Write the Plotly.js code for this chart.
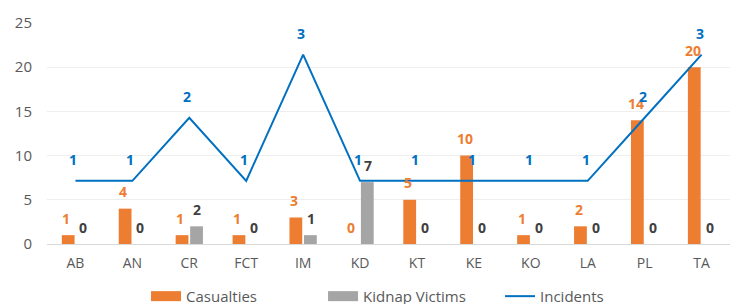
<!DOCTYPE html>
<html><head><meta charset="utf-8">
<script src="https://cdn.plot.ly/plotly-3.0.1.min.js"></script>
<style>html,body{margin:0;padding:0;background:#fff;}#chart{width:737px;height:304px;}</style>
</head><body><div id="chart"></div>
<script>
const categories = ["AB","AN","CR","FCT","IM","KD","KT","KE","KO","LA","PL","TA"];
const casualties = [1,4,1,1,3,0,5,10,1,2,14,20];
const kidnapVictims = [0,0,2,0,1,7,0,0,0,0,0,0];
const incidents = [1,1,2,1,3,1,1,1,1,1,2,3];

const ORANGE = "#ED7D31", GRAY = "#A5A5A5", BLUE = "#0070C0";
const FONT = "Open Sans, Noto Sans, sans-serif";

const traces = [
  {type:"bar", name:"Casualties", x:categories, y:casualties, marker:{color:ORANGE}, showlegend:false, hoverinfo:"skip"},
  {type:"bar", name:"Kidnap Victims", x:categories, y:kidnapVictims, marker:{color:GRAY}, showlegend:false, hoverinfo:"skip"},
  {type:"scatter", mode:"lines", name:"Incidents", x:categories, y:incidents, yaxis:"y2", line:{color:BLUE, width:2}, showlegend:false, hoverinfo:"skip"},
  // legend entries
  {type:"scatter", mode:"lines", name:"Casualties", x:[null], y:[null], line:{color:ORANGE, width:10}},
  {type:"scatter", mode:"lines", name:"Kidnap Victims", x:[null], y:[null], line:{color:GRAY, width:10}},
  {type:"scatter", mode:"lines", name:"Incidents", x:[null], y:[null], yaxis:"y2", line:{color:BLUE, width:2}}
];

const annotations = [];
categories.forEach((c,i)=>{
  annotations.push({x:c, y:casualties[i], xref:"x", yref:"y", text:String(casualties[i]), showarrow:false,
    xshift:-9, yshift:17, yanchor:"middle", font:{family:FONT, size:14, color:ORANGE, weight:"bold"}});
  annotations.push({x:c, y:kidnapVictims[i], xref:"x", yref:"y", text:String(kidnapVictims[i]), showarrow:false,
    xshift:8, yshift:17, yanchor:"middle", font:{family:FONT, size:14, color:"#404040", weight:"bold"}});
  annotations.push({x:c, y:incidents[i], xref:"x", yref:"y2", text:String(incidents[i]), showarrow:false,
    xshift:-2, yshift:21, yanchor:"middle", font:{family:FONT, size:14, color:BLUE, weight:"bold"}});
});

const layout = {
  width:737, height:304,
  margin:{l:47, r:7, t:23, b:60, autoexpand:false},
  paper_bgcolor:"#fff", plot_bgcolor:"#fff",
  font:{family:FONT, size:14, color:"#595959"},
  barmode:"group", bargap:0.49, bargroupgap:0.12,
  xaxis:{type:"category", showgrid:false, zeroline:false, showline:true, linecolor:"#D9D9D9", linewidth:1,
    ticks:"", ticklabelstandoff:6, tickfont:{family:FONT, size:14, color:"#595959"}, fixedrange:true, automargin:false},
  yaxis:{range:[0,25], dtick:5, showgrid:true, gridcolor:"#EEEEEE", gridwidth:1, zeroline:false, showline:false,
    ticks:"", ticklabelstandoff:14, tickfont:{family:FONT, size:15, color:"#595959"}, fixedrange:true, automargin:false},
  yaxis2:{range:[0,3.5], overlaying:"y", side:"right", visible:false, showgrid:false, fixedrange:true},
  legend:{orientation:"h", x:0.145, xanchor:"left", xref:"paper", yref:"container", y:0.025, yanchor:"middle",
    entrywidth:132, entrywidthmode:"pixels",
    font:{family:FONT, size:15, color:"#595959"}, bgcolor:"rgba(0,0,0,0)"},
  annotations:annotations,
  showlegend:true
};

Plotly.newPlot("chart", traces, layout, {displayModeBar:false, staticPlot:true});
</script></body></html>
